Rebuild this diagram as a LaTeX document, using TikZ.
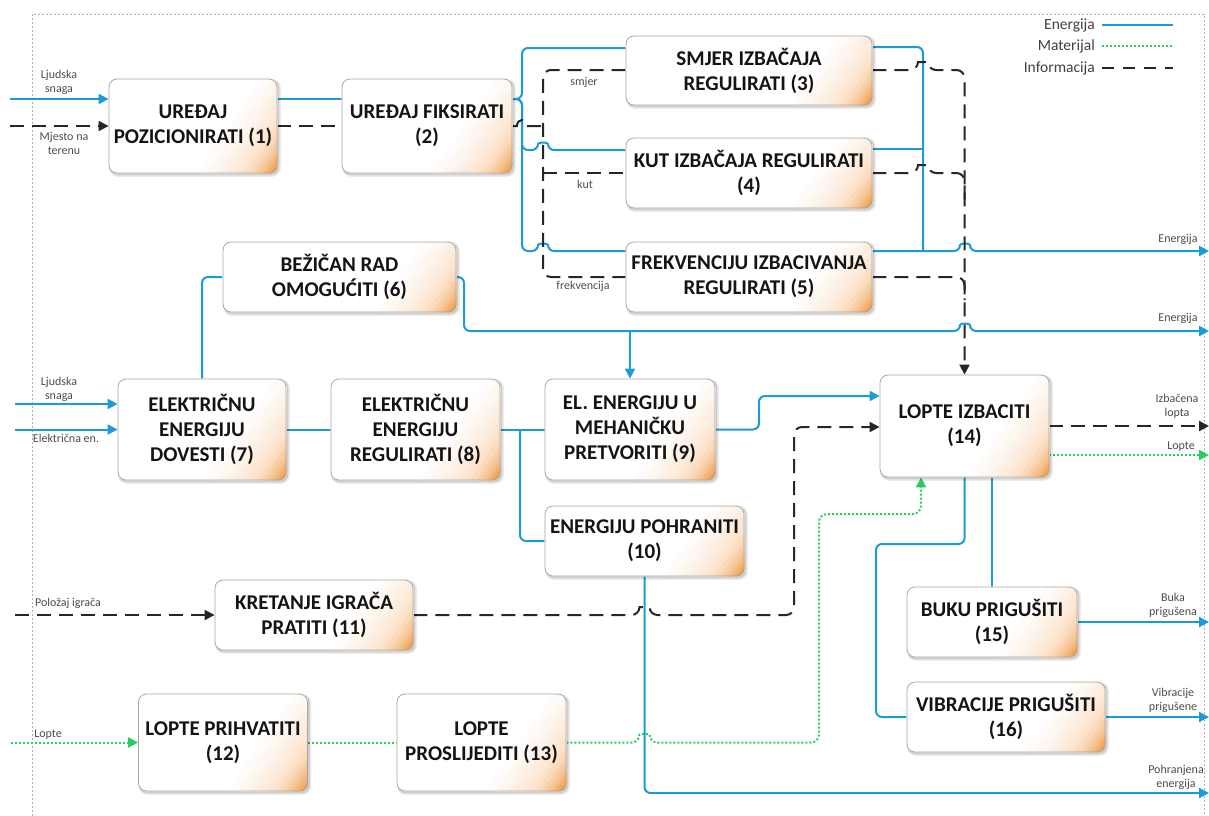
\documentclass[tikz,border=0pt]{standalone}
\usepackage{fontspec}
\setmainfont{Carlito}
\usetikzlibrary{arrows.meta}
\definecolor{enC}{RGB}{28,155,215}
\definecolor{matC}{RGB}{40,205,95}
\definecolor{orB}{RGB}{238,138,38}
\definecolor{frameC}{RGB}{175,175,175}
\pgfdeclarelayer{bg}
\pgfdeclarelayer{fillL}
\pgfsetlayers{bg,fillL,main}
\tikzset{
 fbox/.style={draw=black!35, line width=0.8pt, rounded corners=8pt,
   align=center, inner sep=0pt, font=\bfseries\fontsize{21}{25}\selectfont, text=black!92},
 en/.style={draw=enC, line width=2pt},
 mat/.style={draw=matC, line width=2pt, dash pattern=on 2pt off 2pt},
 inf/.style={draw=black!85, line width=2pt, dash pattern=on 14pt off 8pt},
 arr/.style={-{Triangle[length=10pt,width=10pt]}},
 lbl/.style={font=\fontsize{12}{14}\selectfont, text=black!70, align=center, inner sep=0pt},
 leg/.style={font=\fontsize{15.5}{17}\selectfont, text=black!75, anchor=east, inner sep=0pt},
}
\begin{document}
\begin{tikzpicture}[x=1pt,y=-1pt]
\useasboundingbox (0,0) rectangle (1209,815);
% boxes
\node[fbox, minimum width=168pt, minimum height=94pt] (b1) at (193,126) {UREĐAJ\\POZICIONIRATI (1)};
\node[fbox, minimum width=170pt, minimum height=94pt] (b2) at (427,126) {UREĐAJ FIKSIRATI\\(2)};
\node[fbox, minimum width=246pt, minimum height=69pt] (b3) at (749,70.5) {SMJER IZBAČAJA\\REGULIRATI (3)};
\node[fbox, minimum width=246pt, minimum height=70pt] (b4) at (749,173) {KUT IZBAČAJA REGULIRATI\\(4)};
\node[fbox, minimum width=246pt, minimum height=70pt] (b5) at (749,277) {FREKVENCIJU IZBACIVANJA\\REGULIRATI (5)};
\node[fbox, minimum width=233pt, minimum height=70pt] (b6) at (339.5,277) {BEŽIČAN RAD\\OMOGUĆITI (6)};
\node[fbox, minimum width=168pt, minimum height=101pt] (b7) at (202,429.5) {ELEKTRIČNU\\ENERGIJU\\DOVESTI (7)};
\node[fbox, minimum width=169pt, minimum height=101pt] (b8) at (415.5,429.5) {ELEKTRIČNU\\ENERGIJU\\REGULIRATI (8)};
\node[fbox, minimum width=170pt, minimum height=101pt] (b9) at (630,429.5) {EL. ENERGIJU U\\MEHANIČKU\\PRETVORITI (9)};
\node[fbox, minimum width=199pt, minimum height=70pt] (b10) at (644.5,541) {ENERGIJU POHRANITI\\(10)};
\node[fbox, minimum width=198pt, minimum height=70pt] (b11) at (314,615) {KRETANJE IGRAČA\\PRATITI (11)};
\node[fbox, minimum width=169pt, minimum height=97pt] (b12) at (223,742.5) {LOPTE PRIHVATITI\\(12)};
\node[fbox, minimum width=169pt, minimum height=97pt] (b13) at (481.5,742.5) {LOPTE\\PROSLIJEDITI (13)};
\node[fbox, minimum width=169pt, minimum height=102pt] (b14) at (964.5,426) {LOPTE IZBACITI\\(14)};
\node[fbox, minimum width=170pt, minimum height=70pt] (b15) at (992,622) {BUKU PRIGUŠITI\\(15)};
\node[fbox, minimum width=198pt, minimum height=70pt] (b16) at (1006,717) {VIBRACIJE PRIGUŠITI\\(16)};
% box fills: shadow, white, orange corner gradient
\begin{pgfonlayer}{fillL}
\foreach \b in {b1,b2,b3,b4,b5,b6,b7,b8,b9,b10,b11,b12,b13,b14,b15,b16}{
  \fill[black, opacity=0.08, rounded corners=9pt] ([shift={(0.5pt,-3.5pt)}]\b.south west) rectangle ([shift={(3.5pt,-0.5pt)}]\b.north east);
  \fill[black, opacity=0.12, rounded corners=8pt] ([shift={(1pt,-2pt)}]\b.south west) rectangle ([shift={(2pt,-1pt)}]\b.north east);
  \fill[white, rounded corners=8pt] (\b.south west) rectangle (\b.north east);
  \begin{scope}
    \clip[rounded corners=8pt] (\b.south west) rectangle (\b.north east);
    \begin{scope}[shift={(\b.south east)}, rotate=-35]
      \foreach \p/\c in {-66/3,-58/7,-50/11,-43/15,-36/20,-30/25,-25/32,-20/40,-16/50,-12/60,-9/70,-6/80,-3/90,-1/100}
        {\fill[orB!\c] (\p,-300) rectangle (300,300);}
    \end{scope}
  \end{scope}
}
\end{pgfonlayer}
% free ends
\coordinate (i1) at (10,99);
\coordinate (i2) at (10,126);
\coordinate (i3) at (15,404);
\coordinate (i4) at (15,429.5);
\coordinate (i5) at (15,615);
\coordinate (i6) at (11,742.5);
\coordinate (o1) at (1209,251);
\coordinate (o2) at (1209,331);
\coordinate (o3) at (1209,426);
\coordinate (o4) at (1209,455);
\coordinate (o5) at (1209,622);
\coordinate (o6) at (1209,717);
\coordinate (o7) at (1209,793);
\begin{pgfonlayer}{bg}
\draw[frameC, dash pattern=on 2pt off 2pt, line width=0.6pt] (32,14) rectangle (1204,830);
% inputs
\draw[en, arr] (i1) -- (i1 -| b1.west);
\draw[inf, arr] (i2) -- (i2 -| b1.west);
\draw[en] (b1.east |- 0,99) -- (b2.west |- 0,99);
\draw[inf] (b1.east) -- (b2.west);
% from b2
\draw[en, rounded corners=6pt] (b2.east |- 0,99) -- (522,99) -- (522,48) -- (b3.west |- 0,48);
\draw[en, rounded corners=6pt] (b2.east |- 0,99) -- (522,99) -- (522,150) -- (538,150) .. controls (538,142) and (548,142) .. (548,150) -- (b4.west |- 0,150);
\draw[en, rounded corners=6pt, arr] (b2.east |- 0,99) -- (522,99) -- (522,251) -- (538,251) .. controls (538,243) and (548,243) .. (548,251) -- (960,251) .. controls (960,243) and (970,243) .. (970,251) -- (o1);
\draw[en, rounded corners=6pt] (b3.east |- 0,47) -- (923,47) -- (923,251);
\draw[en] (b4.east |- 0,149) -- (923,149);
\draw[inf] (b2.east) -- (517,126) .. controls (517,118) and (527,118) .. (527,126) -- (543,126);
\draw[inf, rounded corners=8pt] (b3.west |- 0,70) -- (543,70) -- (543,277) -- (b5.west |- 0,277);
\draw[inf] (543,173) -- (b4.west |- 0,173);
% right dashed collector
\draw[inf, rounded corners=8pt, arr] (b3.east |- 0,70) -- (918,70) .. controls (918,62) and (928,62) .. (928,70) -- (964.5,70) -- (b14.north);
\draw[inf, rounded corners=8pt] (b4.east |- 0,173) -- (918,173) .. controls (918,165) and (928,165) .. (928,173) -- (964.5,173) -- (964.5,200);
\draw[inf, rounded corners=8pt] (b5.east |- 0,277) -- (964.5,277) -- (964.5,300);
% b6
\draw[en, rounded corners=6pt] (b6.west) -- (202,277) -- (b7.north);
\draw[en, rounded corners=6pt, arr] (b6.east) -- (464,277) -- (464,331) -- (960,331) .. controls (960,323) and (970,323) .. (970,331) -- (o2);
\draw[en, arr] (b9.north |- 0,331) -- (b9.north);
% b7 b8 b9 b10
\draw[en, arr] (i3) -- (i3 -| b7.west);
\draw[en, arr] (i4) -- (i4 -| b7.west);
\draw[en] (b7.east) -- (b8.west);
\draw[en] (b8.east) -- (b9.west);
\draw[en, rounded corners=6pt] (520,429.5) -- (520,541) -- (b10.west);
\draw[en, rounded corners=6pt, arr] (b9.east) -- (759,429.5) -- (759,396) -- (b14.west |- 0,396);
\draw[en, rounded corners=6pt, arr] (b10.south) -- (b10.south |- 0,793) -- (o7);
% b11
\draw[inf, arr] (i5) -- (b11.west);
\draw[inf, rounded corners=8pt, arr] (b11.east) -- (639.5,615) .. controls (639.5,607) and (649.5,607) .. (649.5,615) -- (794,615) -- (794,427) -- (b14.west |- 0,427);
% materials
\draw[mat, arr] (i6) -- (b12.west);
\draw[mat] (b12.east) -- (b13.west);
\draw[mat, rounded corners=8pt, arr] (b13.east) -- (639.5,742.5) .. controls (639.5,734) and (649.5,734) .. (649.5,742.5) -- (819,742.5) -- (819,514) -- (921,514) -- (b14.south -| 921,0);
% b14 outputs
\draw[inf, arr] (b14.east) -- (o3);
\draw[mat, arr] (b14.east |- 0,455) -- (o4);
\draw[en, rounded corners=6pt] (b14.south) -- (964.5,544) -- (876,544) -- (876,717) -- (b16.west);
\draw[en] (b14.south -| b15.north) -- (b15.north);
\draw[en, arr] (b15.east) -- (o5);
\draw[en, arr] (b16.east) -- (o6);
\end{pgfonlayer}
% labels
\node[lbl] (l1) at (59,82) {Ljudska\\snaga};
\node[lbl] (l2) at (64,143) {Mjesto na\\terenu};
\node[lbl] (l3) at (59,389) {Ljudska\\snaga};
\node[lbl] (l4) at (66,438) {Električna en.};
\node[lbl] (l5) at (68,603) {Položaj igrača};
\node[lbl] (l6) at (48,735) {Lopte};
\node[lbl] (l7) at (584,82) {smjer};
\node[lbl] (l8) at (585,184) {kut};
\node[lbl] (l9) at (583,286) {frekvencija};
\node[lbl] (r1) at (1178,239) {Energija};
\node[lbl] (r2) at (1178,318) {Energija};
\node[lbl] (r3) at (1177,406) {Izbačena\\lopta};
\node[lbl] (r4) at (1181,447) {Lopte};
\node[lbl] (r5) at (1173,605) {Buka\\prigušena};
\node[lbl] (r6) at (1173,700) {Vibracije\\prigušene};
\node[lbl] (r7) at (1176,777) {Pohranjena\\energija};
% legend
\node[leg] (g1) at (1095,25) {Energija};
\node[leg] (g2) at (1095,46) {Materijal};
\node[leg] (g3) at (1095,68) {Informacija};
\coordinate (g1e) at (1173,25);
\coordinate (g2e) at (1173,46);
\coordinate (g3e) at (1173,68);
\draw[en] ([xshift=7pt]g1.east) -- (g1e);
\draw[mat] ([xshift=7pt]g2.east) -- (g2e);
\draw[inf, dash pattern=on 12pt off 9pt] ([xshift=7pt]g3.east) -- (g3e);
\end{tikzpicture}
\end{document}
